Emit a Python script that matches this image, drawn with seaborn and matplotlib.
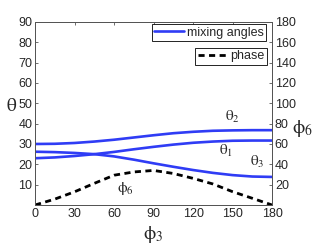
import numpy as np
import pandas as pd
import matplotlib
matplotlib.use("Agg")
import matplotlib.pyplot as plt
import seaborn as sns

# phi_3 grid (degrees)
phi3 = [0, 15, 30, 45, 60, 75, 90, 105, 120, 135, 150, 165, 180]

# mixing angles (left axis, degrees)
theta1 = [23.0, 23.4, 24.1, 25.0, 26.1, 27.4, 28.6, 29.7, 30.6, 31.2, 31.6, 31.7, 31.7]
theta2 = [30.0, 30.1, 30.5, 31.2, 32.1, 33.2, 34.3, 35.3, 36.0, 36.5, 36.7, 36.8, 36.8]
theta3 = [26.2, 26.0, 25.6, 25.0, 23.9, 22.3, 20.5, 18.8, 17.2, 15.8, 14.7, 14.0, 13.8]

# phase phi_6 (right axis, degrees)
phi6 = [0, 5.8, 13.0, 21.3, 29.3, 32.5, 34.0, 31.0, 26.2, 20.7, 13.1, 6.6, 0]

left_ticks = [10, 20, 30, 40, 50, 60, 70, 80, 90]
right_ticks = [20, 40, 60, 80, 100, 120, 140, 160, 180]
x_ticks = [0, 30, 60, 90, 120, 150, 180]

sns.set_style("white")
plt.rcParams["font.family"] = ["Liberation Sans", "DejaVu Sans"]
plt.rcParams["mathtext.fontset"] = "stix"

angles = pd.DataFrame({
    "phi3": phi3 * 3,
    "theta": theta1 + theta2 + theta3,
    "name": ["t1"] * len(phi3) + ["t2"] * len(phi3) + ["t3"] * len(phi3),
})
phase = pd.DataFrame({"phi3": phi3, "phi6": phi6})

fig = plt.figure(figsize=(3.16, 2.49), dpi=100)
ax = fig.add_axes([0.111, 0.1767, 0.750, 0.735])
blue = "#2f3cf5"
sns.lineplot(data=angles, x="phi3", y="theta", units="name", estimator=None,
             color=blue, lw=1.9, ax=ax, legend=False)
ax2 = ax.twinx()
sns.lineplot(data=phase, x="phi3", y="phi6", color="black", lw=2.0,
             ax=ax2, legend=False)
ax2.lines[0].set_dashes([2.2, 1.6])

ax.set_xlim(0, 180)
ax.set_ylim(0, 90)
ax2.set_ylim(0, 180)
ax.set_xticks(x_ticks)
ax.set_yticks(left_ticks)
ax2.set_yticks(right_ticks)

fs = 9
for a in (ax, ax2):
    for s in a.spines.values():
        s.set_color("#555555")
        s.set_linewidth(0.7)
    a.tick_params(direction="in", length=2.5, width=0.6, color="#555555",
                  labelsize=fs, pad=2)
ax.tick_params(top=True, right=False)
ax2.tick_params(left=False, right=True)

ax.set_xlabel(r"$\mathrm{\phi}_3$", fontsize=14)
ax.set_ylabel(r"$\mathrm{\theta}$", fontsize=14, rotation=0, va="center")
ax2.set_ylabel(r"$\mathrm{\phi}_6$", fontsize=14, rotation=0, va="center")
ax.xaxis.set_label_coords(0.50, -0.105)
ax.yaxis.set_label_coords(-0.10, 0.54)
ax2.yaxis.set_label_coords(1.13, 0.42)

# curve labels
ax.text(144, 41.5, r"$\mathrm{\theta}_2$", fontsize=11)
ax.text(140, 24.5, r"$\mathrm{\theta}_1$", fontsize=11)
ax.text(163, 19.0, r"$\mathrm{\theta}_3$", fontsize=11)
ax.text(62, 6.5, r"$\mathrm{\phi}_6$", fontsize=11)

leg1 = ax2.legend([plt.Line2D([], [], color=blue, lw=1.9)], ["mixing angles"],
                  loc="upper right", bbox_to_anchor=(0.975, 0.987),
                  borderaxespad=0, fancybox=False, framealpha=1,
                  edgecolor="black", fontsize=fs, handlelength=2.4,
                  handletextpad=0.2, borderpad=0.2)
leg1.get_frame().set_linewidth(0.6)
ax2.add_artist(leg1)
leg2 = ax2.legend([plt.Line2D([], [], color="black", lw=2.0, dashes=[2.2, 1.6])],
                  ["phase"], loc="upper right", bbox_to_anchor=(0.979, 0.86),
                  borderaxespad=0, fancybox=False, framealpha=1,
                  edgecolor="black", fontsize=fs, handlelength=2.4,
                  handletextpad=0.2, borderpad=0.2)
leg2.get_frame().set_linewidth(0.6)

fig.savefig("out.png", dpi=100)
